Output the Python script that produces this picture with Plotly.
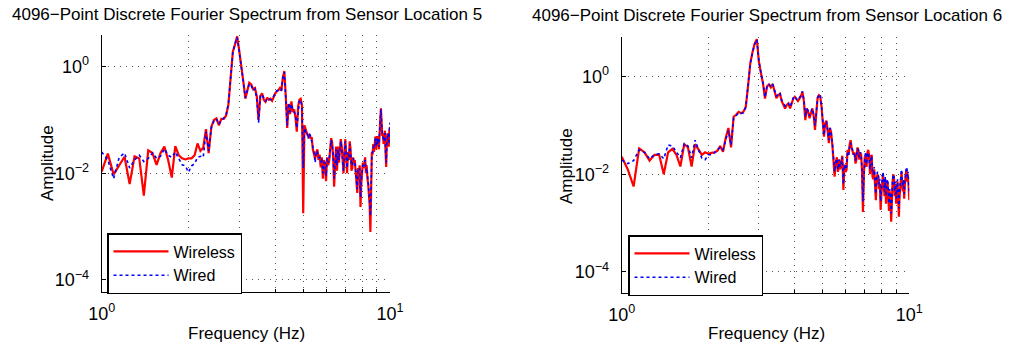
import plotly.graph_objects as go

# Frequency bins (Hz) shown between 1 and 10 Hz
freq_hz = [
    1.00, 1.05, 1.10, 1.15, 1.20, 1.25, 1.30, 1.35, 1.40, 1.45, 1.50, 1.55, 1.60, 1.65, 1.70, 1.75, 1.80, 1.85, 1.90, 1.95,
    2.00, 2.05, 2.10, 2.15, 2.20, 2.25, 2.30, 2.35, 2.40, 2.45, 2.50, 2.55, 2.60, 2.65, 2.70, 2.75, 2.80, 2.85, 2.90, 2.95,
    3.00, 3.05, 3.10, 3.15, 3.20, 3.25, 3.30, 3.35, 3.40, 3.45, 3.50, 3.55, 3.60, 3.65, 3.70, 3.75, 3.80, 3.85, 3.90, 3.95,
    4.00, 4.05, 4.10, 4.15, 4.20, 4.25, 4.30, 4.35, 4.40, 4.45, 4.50, 4.55, 4.60, 4.65, 4.70, 4.75, 4.80, 4.85, 4.90, 4.95,
    5.00, 5.05, 5.10, 5.15, 5.20, 5.25, 5.30, 5.35, 5.40, 5.45, 5.50, 5.55, 5.60, 5.65, 5.70, 5.75, 5.80, 5.85, 5.90, 5.95,
    6.00, 6.05, 6.10, 6.15, 6.20, 6.25, 6.30, 6.35, 6.40, 6.45, 6.50, 6.55, 6.60, 6.65, 6.70, 6.75, 6.80, 6.85, 6.90, 6.95,
    7.00, 7.05, 7.10, 7.15, 7.20, 7.25, 7.30, 7.35, 7.40, 7.45, 7.50, 7.55, 7.60, 7.65, 7.70, 7.75, 7.80, 7.85, 7.90, 7.95,
    8.00, 8.05, 8.10, 8.15, 8.20, 8.25, 8.30, 8.35, 8.40, 8.45, 8.50, 8.55, 8.60, 8.65, 8.70, 8.75, 8.80, 8.85, 8.90, 8.95,
    9.00, 9.05, 9.10, 9.15, 9.20, 9.25, 9.30, 9.35, 9.40, 9.45, 9.50, 9.55, 9.60, 9.65, 9.70, 9.75, 9.80, 9.85, 9.90, 9.95,
    10.00,
]

# Amplitudes, expressed as log10(amplitude)
loc5_wireless_log10 = [
    -1.97, -1.63, -2.02, -1.85, -1.69, -2.20, -1.68, -1.72, -2.42, -1.57, -1.62, -1.84, -1.62, -1.50, -1.75, -2.08, -1.49, -1.66, -1.72, -1.74,
    -1.72, -1.72, -1.66, -1.44, -1.58, -1.52, -1.17, -1.62, -1.13, -1.00, -0.97, -1.10, -0.98, -0.98, -0.92, -0.72, -0.15, 0.28, 0.42, 0.57,
    0.30, -0.05, -0.28, -0.60, -0.45, -0.30, -0.33, -0.42, -0.40, -0.55, -1.00, -0.55, -0.50, -0.62, -0.66, -0.58, -0.62, -0.60, -0.64, -0.56,
    -0.50, -0.46, -0.44, -0.40, -0.45, -0.20, -0.08, -0.55, -1.15, -0.70, -0.89, -0.65, -0.85, -0.80, -0.95, -1.22, -0.75, -0.62, -0.60, -0.72,
    -2.75, -1.10, -1.20, -1.25, -1.30, -1.28, -1.35, -1.32, -1.55, -1.62, -1.73, -1.60, -1.55, -1.75, -1.65, -1.89, -1.70, -2.10, -1.75, -1.85,
    -2.15, -1.70, -1.85, -1.78, -1.55, -1.34, -1.42, -1.70, -2.25, -1.80, -1.50, -1.95, -1.50, -1.80, -1.45, -1.36, -1.50, -1.85, -2.00, -1.60,
    -1.36, -1.70, -2.00, -1.60, -1.75, -1.40, -1.55, -1.95, -1.90, -1.70, -1.80, -1.75, -2.00, -2.20, -2.37, -1.90, -2.00, -1.85, -2.63, -2.20,
    -1.95, -1.80, -1.90, -1.75, -1.70, -2.00, -1.85, -2.10, -2.20, -2.40, -2.60, -3.10, -2.20, -1.60, -1.65, -1.45, -1.60, -1.35, -1.31, -1.55,
    -1.30, -1.50, -1.30, -1.55, -1.05, -1.00, -0.78, -1.10, -1.30, -1.25, -1.45, -1.40, -1.20, -1.60, -1.88, -1.40, -1.25, -1.30, -1.50, -1.20,
    -1.13,
]
loc5_wired_log10 = [
    -1.60, -1.75, -2.10, -1.70, -1.62, -1.90, -1.75, -1.66, -1.78, -1.72, -1.62, -1.72, -1.68, -1.54, -1.66, -1.70, -1.60, -1.72, -1.84, -1.86,
    -1.98, -1.86, -1.82, -1.70, -1.68, -1.70, -1.22, -1.58, -1.15, -1.02, -0.98, -1.08, -1.00, -0.97, -0.90, -0.70, -0.12, 0.27, 0.43, 0.55,
    0.28, -0.06, -0.30, -0.58, -0.47, -0.32, -0.35, -0.45, -0.42, -0.60, -1.05, -0.55, -0.52, -0.60, -0.65, -0.60, -0.60, -0.62, -0.62, -0.55,
    -0.50, -0.45, -0.44, -0.42, -0.44, -0.20, -0.10, -0.60, -1.10, -0.68, -0.85, -0.70, -0.82, -0.85, -0.90, -1.15, -0.80, -0.65, -0.62, -0.75,
    -1.90, -1.15, -1.22, -1.20, -1.35, -1.25, -1.30, -1.38, -1.50, -1.60, -1.80, -1.58, -1.60, -1.70, -1.70, -1.80, -1.72, -2.00, -1.80, -1.80,
    -2.05, -1.72, -1.80, -1.75, -1.60, -1.38, -1.45, -1.65, -2.10, -1.75, -1.55, -1.85, -1.55, -1.75, -1.50, -1.40, -1.55, -1.80, -1.95, -1.62,
    -1.40, -1.65, -1.90, -1.62, -1.70, -1.45, -1.60, -1.85, -1.85, -1.72, -1.78, -1.80, -1.95, -2.10, -2.30, -1.95, -1.95, -1.90, -2.45, -2.10,
    -1.90, -1.85, -1.85, -1.80, -1.75, -1.95, -1.90, -2.00, -2.15, -2.35, -2.50, -2.80, -2.10, -1.65, -1.60, -1.50, -1.55, -1.40, -1.35, -1.50,
    -1.35, -1.45, -1.35, -1.50, -1.10, -1.00, -0.80, -1.15, -1.25, -1.30, -1.40, -1.35, -1.25, -1.55, -1.80, -1.45, -1.30, -1.25, -1.45, -1.15,
    -1.05,
]
loc6_wireless_log10 = [
    -1.64, -1.90, -2.25, -1.47, -1.55, -1.72, -1.60, -1.60, -2.00, -1.55, -1.48, -1.60, -1.84, -1.38, -1.45, -1.84, -1.38, -1.50, -1.60, -1.55,
    -1.58, -1.56, -1.55, -1.52, -1.42, -1.54, -1.25, -1.05, -1.45, -0.82, -0.78, -0.72, -0.75, -0.72, -0.62, -0.20, 0.28, 0.50, 0.68, 0.77,
    0.30, 0.07, -0.14, -0.45, -0.20, -0.16, -0.22, -0.15, -0.30, -0.44, -0.38, -0.35, -0.50, -0.58, -0.65, -0.58, -0.55, -0.65, -0.55, -0.45,
    -0.41, -0.47, -0.50, -0.45, -0.40, -0.31, -0.50, -0.89, -0.65, -0.72, -0.85, -0.75, -0.65, -0.80, -1.09, -0.75, -0.43, -0.38, -0.40, -0.60,
    -0.85, -1.23, -0.95, -0.90, -1.10, -1.36, -1.05, -1.15, -1.40, -1.71, -2.05, -1.75, -1.65, -1.95, -1.70, -1.90, -1.75, -1.62, -2.32, -1.80,
    -1.95, -1.91, -1.50, -1.60, -1.40, -1.30, -1.45, -1.55, -1.60, -1.55, -1.78, -1.70, -1.45, -1.50, -1.70, -1.55, -1.60, -1.95, -2.77, -2.00,
    -1.65, -1.60, -1.85, -1.55, -1.50, -1.62, -2.00, -1.65, -1.60, -2.05, -2.10, -1.90, -2.25, -2.53, -2.10, -2.00, -2.05, -2.30, -2.20, -2.73,
    -2.40, -2.10, -2.00, -2.20, -2.45, -2.10, -2.60, -2.25, -2.15, -2.45, -2.75, -2.35, -2.55, -2.97, -2.40, -2.15, -2.00, -2.10, -2.45, -2.20,
    -2.60, -2.40, -2.15, -2.50, -2.87, -2.45, -2.20, -2.00, -1.95, -2.20, -2.35, -2.15, -2.50, -2.20, -2.00, -1.95, -1.91, -2.15, -2.00, -2.32,
    -2.53,
]
loc6_wired_log10 = [
    -1.71, -1.78, -1.72, -1.50, -1.55, -1.68, -1.60, -1.58, -1.68, -1.40, -1.42, -1.55, -1.66, -1.37, -1.42, -1.66, -1.30, -1.50, -1.67, -1.70,
    -1.60, -1.60, -1.56, -1.50, -1.45, -1.50, -1.28, -1.10, -1.40, -0.85, -0.80, -0.74, -0.75, -0.74, -0.62, -0.22, 0.26, 0.50, 0.67, 0.76,
    0.32, 0.08, -0.12, -0.42, -0.20, -0.15, -0.20, -0.15, -0.28, -0.40, -0.35, -0.33, -0.48, -0.55, -0.60, -0.55, -0.55, -0.62, -0.52, -0.43,
    -0.40, -0.46, -0.48, -0.44, -0.38, -0.30, -0.48, -0.82, -0.65, -0.70, -0.80, -0.72, -0.65, -0.78, -1.00, -0.72, -0.43, -0.36, -0.38, -0.58,
    -0.85, -1.20, -0.95, -0.92, -1.10, -1.30, -1.05, -1.15, -1.35, -1.65, -1.95, -1.75, -1.68, -1.90, -1.70, -1.85, -1.75, -1.65, -2.20, -1.80,
    -1.90, -1.85, -1.55, -1.60, -1.45, -1.35, -1.45, -1.50, -1.60, -1.55, -1.72, -1.65, -1.48, -1.50, -1.65, -1.55, -1.60, -1.90, -2.55, -1.95,
    -1.70, -1.55, -1.80, -1.60, -1.55, -1.65, -1.90, -1.70, -1.62, -1.95, -2.00, -1.85, -2.10, -2.40, -2.05, -1.95, -2.00, -2.20, -2.10, -2.55,
    -2.30, -2.00, -1.95, -2.10, -2.35, -2.05, -2.45, -2.20, -2.10, -2.30, -2.60, -2.30, -2.45, -2.80, -2.30, -2.10, -2.00, -2.05, -2.35, -2.15,
    -2.50, -2.30, -2.10, -2.40, -2.70, -2.35, -2.15, -2.00, -1.90, -2.15, -2.25, -2.10, -2.40, -2.15, -1.95, -1.90, -1.85, -2.05, -1.95, -2.20,
    -2.40,
]

titles = [
    "4096\u2212Point Discrete Fourier Spectrum from Sensor Location 5",
    "4096\u2212Point Discrete Fourier Spectrum from Sensor Location 6",
]
series_names = ["Wireless", "Wired"]
x_tick_vals = [1, 10]
x_tick_text = ["10<sup>0</sup>", "10<sup>1</sup>"]
x_minor_vals = [2, 3, 4, 5, 6, 7, 8, 9]
y_tick_vals = [1e-4, 1e-2, 1]
y_tick_text = ["10<sup>\u22124</sup>", "10<sup>\u22122</sup>", "10<sup>0</sup>"]

for arr in (loc5_wireless_log10, loc5_wired_log10, loc6_wireless_log10, loc6_wired_log10):
    assert len(arr) == len(freq_hz), len(arr)


def to_amp(vals):
    return [10 ** v for v in vals]


# Figure fills the whole 1011x346 page (body margin removed in the page script)
W, H = 1011, 346


def px(x):
    return x / W


def py(y):
    return 1 - y / H


FONT = "Liberation Sans, Arial, Helvetica, sans-serif"
GRID = dict(showgrid=True, gridcolor="#555555", gridwidth=1, griddash="1px,5px")

fig = go.Figure()
panels = [
    ("x", "y", "legend", loc5_wireless_log10, loc5_wired_log10),
    ("x2", "y2", "legend2", loc6_wireless_log10, loc6_wired_log10),
]
for xa, ya, lg, wl, wd in panels:
    fig.add_trace(go.Scatter(
        x=freq_hz, y=to_amp(wl), mode="lines", name=series_names[0],
        line=dict(color="#ff0000", width=2.2), xaxis=xa, yaxis=ya, legend=lg,
    ))
    fig.add_trace(go.Scatter(
        x=freq_hz, y=to_amp(wd), mode="lines", name=series_names[1],
        line=dict(color="#0000ff", width=1.6, dash="dot"), xaxis=xa, yaxis=ya, legend=lg,
    ))


def xaxis_cfg(domain, anchor):
    return dict(
        type="log", range=[0, 1], domain=domain, anchor=anchor,
        tickmode="array", tickvals=x_tick_vals, ticktext=x_tick_text,
        ticks="inside", ticklen=4, tickcolor="black", tickwidth=1,
        minor=dict(tickmode="array", tickvals=x_minor_vals, ticks="inside", ticklen=3,
                   tickcolor="black", **GRID),
        showline=True, linecolor="black", linewidth=1, mirror=False,
        zeroline=False, tickfont=dict(family=FONT, size=18, color="black"),
        ticklabelstandoff=5, automargin=False, **GRID,
    )


def yaxis_cfg(domain, anchor, rng):
    return dict(
        type="log", range=rng, domain=domain, anchor=anchor,
        tickmode="array", tickvals=y_tick_vals, ticktext=y_tick_text,
        ticks="inside", ticklen=4, tickcolor="black", tickwidth=1,
        showline=True, linecolor="black", linewidth=1, mirror=False,
        zeroline=False, tickfont=dict(family=FONT, size=18, color="black"),
        ticklabelstandoff=8, automargin=False, **GRID,
    )


def legend_cfg(x_px, y_px):
    return dict(
        x=px(x_px), y=py(y_px), xanchor="left", yanchor="top",
        bgcolor="white", bordercolor="black", borderwidth=1.5,
        font=dict(family=FONT, size=16, color="black"),
        tracegroupgap=0, itemwidth=55,
    )


annotations = [
    dict(text=titles[0], x=px(247), y=py(15)),
    dict(text=titles[1], x=px(767), y=py(16)),
    dict(text="Amplitude", x=px(47), y=py(163), textangle=-90),
    dict(text="Amplitude", x=px(567), y=py(166), textangle=-90),
    dict(text="Frequency (Hz)", x=px(246), y=py(333)),
    dict(text="Frequency (Hz)", x=px(766), y=py(333)),
]
for a in annotations:
    a.update(xref="paper", yref="paper", showarrow=False, xanchor="center", yanchor="middle",
             font=dict(family=FONT, size=17, color="black"))

fig.update_layout(
    width=W, height=H, margin=dict(l=0, r=0, t=0, b=0, autoexpand=False),
    paper_bgcolor="white", plot_bgcolor="white",
    font=dict(family=FONT, size=17, color="black"),
    xaxis=xaxis_cfg([px(101.7), px(390)], "y"),
    yaxis=yaxis_cfg([py(292), py(35)], "x", [-4.227, 0.595]),
    xaxis2=xaxis_cfg([px(621.7), px(909.3)], "y2"),
    yaxis2=yaxis_cfg([py(293), py(36.5)], "x2", [-4.432, 0.824]),
    legend=legend_cfg(107, 233),
    legend2=legend_cfg(628, 235),
    annotations=annotations,
    showlegend=True,
    hovermode=False,
)

fig.write_html(
    "out.html",
    config={"displayModeBar": False, "staticPlot": True},
    post_script="document.body.style.margin='0';document.body.style.overflow='hidden';",
)
